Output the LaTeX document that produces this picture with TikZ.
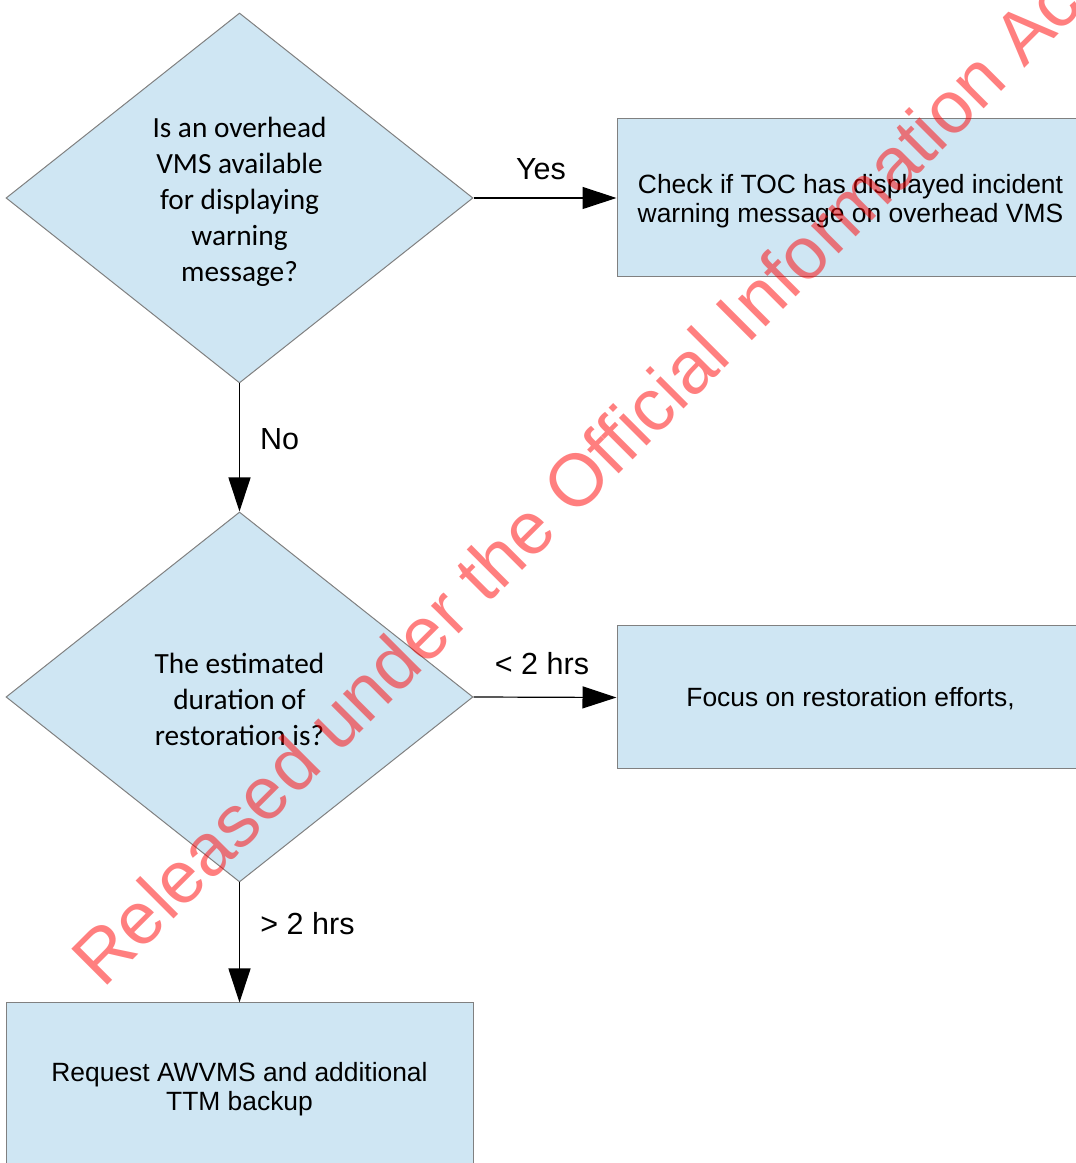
\documentclass[tikz,border=0pt]{standalone}
\usepackage{fontspec}
\setmainfont{Liberation Sans}
\newfontfamily\calibrifont{Carlito}
\usetikzlibrary{shapes.geometric,arrows.meta}
\definecolor{boxblue}{RGB}{207,230,243}
\definecolor{edgegray}{RGB}{128,128,128}
\begin{document}
\begin{tikzpicture}[x=1pt,y=1pt,
  decision/.style={diamond, draw=edgegray, line width=1pt, fill=boxblue,
    minimum width=467pt, minimum height=370pt, inner sep=0pt},
  decisiontext/.style={align=center, inner sep=0pt,
    font=\calibrifont\fontsize{29.3}{36}\selectfont},
  action/.style={rectangle, draw=edgegray, line width=1pt, fill=boxblue,
    minimum width=467pt, inner sep=0pt},
  actiontext/.style={align=center, inner sep=0pt,
    font=\fontsize{26.4}{29}\selectfont},
  flow/.style={draw=black, line width=1.2pt, -{Triangle[length=34pt,width=22pt]}},
  lbl/.style={font=\fontsize{30.5}{36}\selectfont, inner sep=0pt}]
\useasboundingbox (0,0) rectangle (1076,1163);
\clip (0,0) rectangle (1076,1163);

% decisions
\node[decision,
  label={[decisiontext, yshift=-3.5pt]center:Is an overhead\\VMS available\\for displaying\\warning\\message?}]
  (d1) at (239.5,965) {};
\node[decision,
  label={[decisiontext, yshift=-2.5pt]center:The estimated\\duration of\\restoration is?}]
  (d2) at (239.5,466) {};

% actions
\node[action, minimum height=158pt,
  label={[actiontext, yshift=-3pt]center:Check if TOC has displayed incident\\warning message on overhead VMS}]
  (b1) at (850.5,965) {};
\node[action, minimum height=143pt,
  label={[actiontext, yshift=-1pt]center:Focus on restoration efforts,}]
  (b2) at (850.5,465.5) {};
\node[action, minimum height=166pt,
  label={[actiontext, yshift=-3pt]center:Request AWVMS and additional\\TTM backup}]
  (b3) at (239.5,77) {};

% connectors
\draw[flow] (d1.east) -- node[lbl, pos=0.472, yshift=29pt] {Yes} (b1.west);
\draw[flow] (d1.south) -- node[lbl, pos=0.434, xshift=40pt] {No} (d2.north);
\draw[flow] (d2.east) -- node[lbl, pos=0.479, yshift=34pt] {< 2 hrs} (b2.west);
\draw[flow] (d2.south) -- node[lbl, pos=0.34, xshift=68pt] {> 2 hrs} (b3.north);

% release stamp
\node[rotate=45, anchor=base west, inner sep=0pt, text=red, text opacity=0.5,
  font=\fontsize{74}{80}\selectfont] (stamp) at (103,173)
  {Released under the Official Information Act};
\end{tikzpicture}
\end{document}
